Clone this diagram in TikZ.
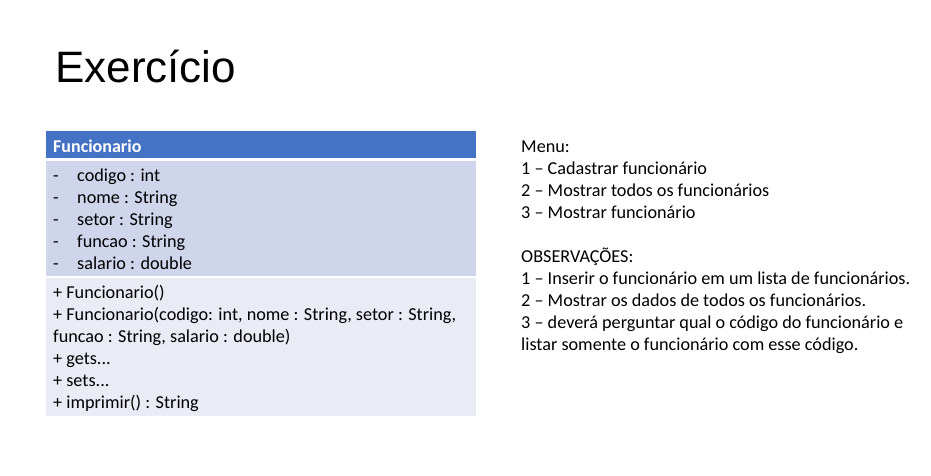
\documentclass[tikz,border=0pt]{standalone}
\usepackage{fontspec}
\setmainfont{Carlito}
\newfontfamily\titlefont{Liberation Sans}
\definecolor{hdrblue}{HTML}{4472C4}
\definecolor{attrband}{HTML}{CFD5EA}
\definecolor{methband}{HTML}{E9EBF5}
\tikzset{
  band/.style={anchor=north west, inner sep=0pt, minimum width=430pt},
  txt/.style={anchor=base west, inner sep=0pt, font=\fontsize{18.2}{22}\selectfont},
}
\begin{document}
\begin{tikzpicture}[x=1pt,y=-1pt]
  \fill[white] (0,0) rectangle (931,475);
  \useasboundingbox (0,0) rectangle (931,475);

  % title
  \node[anchor=base west, inner sep=0pt, font=\titlefont\fontsize{44}{50}\selectfont] (title) at (55,82) {Exercício};

  % class box
  \node[band, fill=hdrblue, minimum height=27pt] (hdr) at (46,131) {};
  \node[band, fill=attrband, minimum height=115pt] (attrs) at (46,161) {};
  \node[band, fill=methband, minimum height=138pt] (meths) at (46,278) {};
  \node[txt, text=white, font=\bfseries\fontsize{18}{20}\selectfont] (cname) at (53,152) {Funcionario};

  % attributes
  \foreach \t [count=\i] in {codigo : int, nome : String, setor : String, funcao : String, salario : double}{
    \node[txt] (dash\i) at (53,159+22*\i) {-};
    \node[txt] (attr\i) at (77,159+22*\i) {\t};
  }

  % methods
  \node[txt] (meth1) at (53,298) {+ Funcionario()};
  \node[txt] (meth2) at (53,320) {+ Funcionario(codigo: int, nome : String, setor : String,};
  \node[txt] (meth3) at (53,342) {funcao : String, salario : double)};
  \node[txt] (meth4) at (53,364) {+ gets...};
  \node[txt] (meth5) at (53,386) {+ sets...};
  \node[txt] (meth6) at (53,408) {+ imprimir() : String};

  % menu and notes
  \node[txt] (note1) at (521,152) {Menu:};
  \node[txt] (note2) at (521,174) {1 – Cadastrar funcionário};
  \node[txt] (note3) at (521,196) {2 – Mostrar todos os funcionários};
  \node[txt] (note4) at (521,218) {3 – Mostrar funcionário};
  \node[txt] (note5) at (521,262) {OBSERVAÇÕES:};
  \node[txt] (note6) at (521,284) {1 – Inserir o funcionário em um lista de funcionários.};
  \node[txt] (note7) at (521,306) {2 – Mostrar os dados de todos os funcionários.};
  \node[txt] (note8) at (521,328) {3 – deverá perguntar qual o código do funcionário e};
  \node[txt] (note9) at (521,350) {listar somente o funcionário com esse código.};
\end{tikzpicture}
\end{document}
